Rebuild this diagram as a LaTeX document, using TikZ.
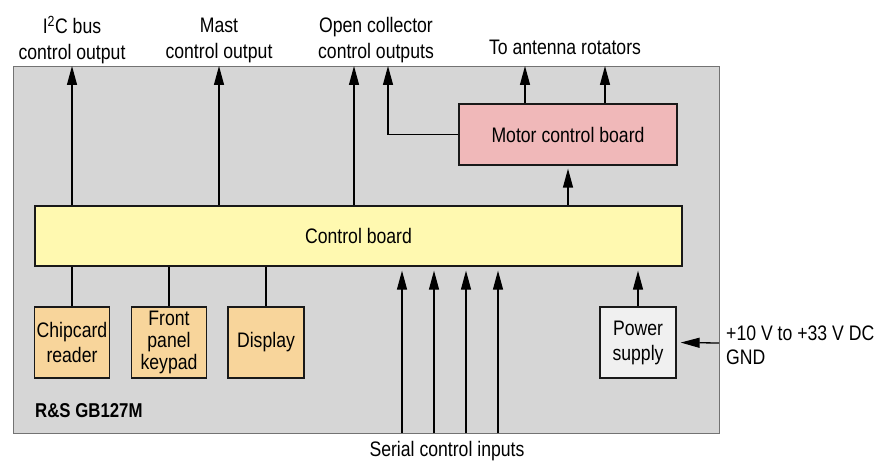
\documentclass[tikz,border=0pt]{standalone}
\usepackage{fontspec}
\setmainfont{Liberation Sans}[FakeStretch=0.84]
\usetikzlibrary{arrows.meta}

\definecolor{casegray}{HTML}{D6D6D6}
\definecolor{ctrlyellow}{HTML}{FFF9B0}
\definecolor{motorpink}{HTML}{F0B8B9}
\definecolor{periphorange}{HTML}{F8D59B}
\definecolor{psugray}{HTML}{F0F0F0}

\tikzset{
    board/.style={draw=black!90, line width=1.3pt, inner sep=0pt, align=center},
    sig/.style={-{Triangle[length=19pt,width=10pt]}, line width=1.3pt},
    wire/.style={line width=1.3pt},
    lbl/.style={inner sep=0pt, align=center},
}

\begin{document}
\begin{tikzpicture}[x=1pt, y=-1pt, font=\fontsize{21}{26}\selectfont]
    \useasboundingbox (0,0) rectangle (885,462);

    % housing
    \node at (366,249.5) (frame) [draw=black!55, line width=0.9pt, fill=casegray,
        minimum width=706pt, minimum height=367pt] {};

    % boards
    \node at (358.5,236) (ctrl) [board, fill=ctrlyellow, minimum width=647pt, minimum height=60pt] {Control board};
    \node at (568,134.5) (motor) [board, fill=motorpink, minimum width=218pt, minimum height=61pt] {Motor control board};
    \node at (72,342.5) (chip) [board, fill=periphorange, minimum width=75pt, minimum height=71pt,
        font=\fontsize{21}{25}\selectfont] {Chipcard\\reader};
    \node at (169,342.5) (keypad) [board, fill=periphorange, minimum width=75pt, minimum height=71pt,
        font=\fontsize{21}{22}\selectfont] {Front\\panel\\keypad};
    \node at (266,342.5) (display) [board, fill=periphorange, minimum width=76pt, minimum height=71pt] {Display};
    \node at (638,342.5) (power) [board, fill=psugray, minimum width=76pt, minimum height=71pt,
        font=\fontsize{21}{25}\selectfont] {Power\\supply};

    % outer labels
    \node at (72,40) (i2clbl) [lbl] {I\textsuperscript{2}C bus\\control output};
    \node at (219,40) (mastlbl) [lbl] {Mast\\control output};
    \node at (376,40) (oclbl) [lbl] {Open collector\\control outputs};
    \node at (565,47) (rotlbl) [lbl] {To antenna rotators};
    \node at (726,345) (dclbl) [lbl, anchor=west, align=left, font=\fontsize{21}{24}\selectfont] {+10 V to +33 V DC\\GND};
    \node at (447,451) (serlbl) [lbl] {Serial control inputs};
    \node at (35,411) (model) [lbl, anchor=west, font=\fontsize{20}{24}\selectfont\bfseries] {R\&S GB127M};

    % signal end points on the housing
    \coordinate (i2c) at (72,66);
    \coordinate (mast) at (219,66);
    \coordinate (oca) at (354,66);
    \coordinate (ocb) at (388,66);
    \coordinate (rota) at (525,66);
    \coordinate (rotb) at (605,66);
    \coordinate (sera) at (402,433);
    \coordinate (serb) at (434,433);
    \coordinate (serc) at (466,433);
    \coordinate (serd) at (498,433);
    \coordinate (dcin) at (719,343);

    % outputs
    \draw [sig] (i2c |- ctrl.north) -- (i2c);
    \draw [sig] (mast |- ctrl.north) -- (mast);
    \draw [sig] (oca |- ctrl.north) -- (oca);
    \draw [sig] (motor.west) -| (ocb);
    \draw [sig] (rota |- motor.north) -- (rota);
    \draw [sig] (rotb |- motor.north) -- (rotb);
    \draw [sig, shorten >=3pt] (ctrl.north -| motor.south) -- (motor.south);

    % peripherals
    \draw [wire] (ctrl.south -| chip.north) -- (chip.north);
    \draw [wire] (ctrl.south -| keypad.north) -- (keypad.north);
    \draw [wire] (ctrl.south -| display.north) -- (display.north);

    % inputs
    \path [sig, shorten >=4pt]
        (sera) edge (sera |- ctrl.south)
        (serb) edge (serb |- ctrl.south)
        (serc) edge (serc |- ctrl.south)
        (serd) edge (serd |- ctrl.south)
        (power.north) edge (ctrl.south -| power.north)
        (dcin) edge (power.east);
\end{tikzpicture}
\end{document}
